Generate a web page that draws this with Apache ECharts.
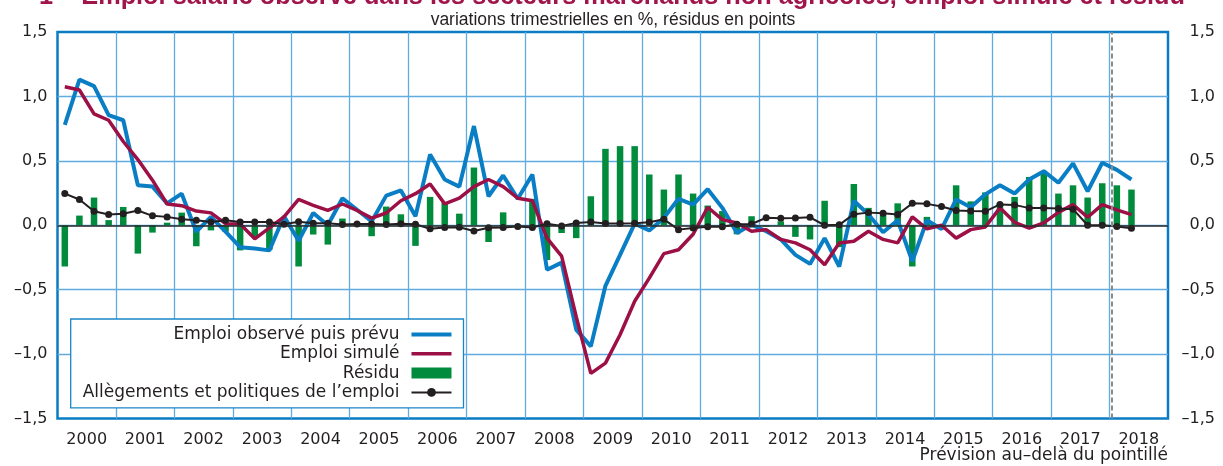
<!DOCTYPE html>
<html>
<head>
<meta charset="utf-8">
<script src="https://cdn.jsdelivr.net/npm/echarts@6/dist/echarts.min.js"></script>
<style>
  html, body { margin: 0; padding: 0; background: #fff; }
  #main { width: 1223px; height: 466px; }
</style>
</head>
<body>
<div id="main"></div>
<script>
// trimestres 2000T1 .. 2018T2 (74 points), axe jusqu'a fin 2018
const years = ['2000', '2001', '2002', '2003', '2004', '2005', '2006', '2007', '2008', '2009',
  '2010', '2011', '2012', '2013', '2014', '2015', '2016', '2017', '2018'];

const emploiObserve = [
  0.78, 1.13, 1.08, 0.855, 0.815, 0.31, 0.30, 0.17,
  0.245, -0.05, 0.065, -0.05, -0.17, -0.18, -0.195, 0.07,
  -0.12, 0.095, 0.0, 0.21, 0.12, 0.03, 0.23, 0.27,
  0.07, 0.55, 0.355, 0.30, 0.77, 0.225, 0.386, 0.205,
  0.394, -0.345, -0.29, -0.81, -0.94, -0.47, -0.23, 0.013,
  -0.04, 0.057, 0.205, 0.16, 0.28, 0.135, -0.06, 0.005,
  -0.047, -0.11, -0.23, -0.30, -0.10, -0.32, 0.19, 0.083,
  -0.054, 0.039, -0.28, 0.039, -0.03, 0.2, 0.14, 0.24,
  0.31, 0.246, 0.355, 0.42, 0.33, 0.48, 0.264, 0.485,
  0.43, 0.355
];

const emploiSimule = [
  1.075, 1.05, 0.865, 0.815, 0.65, 0.51, 0.35, 0.165,
  0.152, 0.11, 0.096, 0.012, 0.01, -0.105, -0.02, 0.065,
  0.20, 0.155, 0.115, 0.165, 0.115, 0.055, 0.095, 0.19,
  0.245, 0.32, 0.166, 0.21, 0.30, 0.355, 0.30, 0.21,
  0.19, -0.10, -0.24, -0.71, -1.15, -1.07, -0.85, -0.59,
  -0.41, -0.22, -0.19, -0.07, 0.14, 0.044, 0.018, -0.047,
  -0.034, -0.11, -0.137, -0.19, -0.306, -0.137, -0.124, -0.047,
  -0.11, -0.137, 0.065, -0.028, 0.0, -0.10, -0.034, -0.013,
  0.135, 0.023, -0.023, 0.018, 0.10, 0.16, 0.062, 0.16,
  0.12, 0.083
];

const residu = [
  -0.32, 0.075, 0.215, 0.04, 0.142, -0.22, -0.057, 0.02,
  0.098, -0.163, -0.04, -0.05, -0.195, -0.09, -0.19, 0.0,
  -0.32, -0.072, -0.15, 0.052, 0.01, -0.085, 0.145, 0.085,
  -0.16, 0.22, 0.176, 0.09, 0.448, -0.13, 0.10, 0.0,
  0.205, -0.27, -0.06, -0.10, 0.225, 0.593, 0.614, 0.614,
  0.394, 0.277, 0.394, 0.246, 0.153, 0.11, -0.07, 0.07,
  -0.01, 0.03, -0.09, -0.11, 0.19, -0.17, 0.32, 0.135,
  0.08, 0.17, -0.32, 0.065, -0.03, 0.31, 0.185, 0.255,
  0.17, 0.22, 0.375, 0.405, 0.246, 0.31, 0.215, 0.326,
  0.31, 0.277
];

const allegements = [
  0.246, 0.20, 0.109, 0.083, 0.09, 0.114, 0.073, 0.065,
  0.047, 0.039, 0.026, 0.039, 0.026, 0.026, 0.026, 0.008,
  0.028, 0.015, 0.015, 0.005, 0.01, 0.01, 0.005, 0.012,
  0.008, -0.028, -0.018, -0.015, -0.045, -0.02, -0.018, -0.01,
  -0.018, 0.012, -0.005, 0.018, 0.025, 0.013, 0.013, 0.015,
  0.023, 0.046, -0.034, -0.022, -0.012, -0.012, 0.007, 0.01,
  0.058, 0.055, 0.057, 0.062, 0.0, 0.003, 0.086, 0.098,
  0.093, 0.083, 0.17, 0.166, 0.145, 0.115, 0.11, 0.108,
  0.162, 0.158, 0.133, 0.133, 0.13, 0.125, 0.0, 0.0,
  -0.01, -0.024
];

// debut de la prevision (en trimestres depuis 2000T1)
const previsionDebut = 72.12;

const pts = arr => arr.map((v, i) => [i + 0.5, v]);
const fmtY = v => (v < 0 ? '\u2013' : '') + Math.abs(v).toFixed(1).replace('.', ',');

const txt = '#231f20';
const gridBlue = '#62abdf';
const blue = '#0a7ec5';
const red = '#9c1045';

const chart = echarts.init(document.getElementById('main'));
const option = {
  animation: false,
  backgroundColor: '#fff',
  grid: {
    left: 57.5, right: 55, top: 32, bottom: 47.5,
    show: true,
    borderColor: '#0a7cc4',
    borderWidth: 2.5,
    backgroundColor: 'transparent'
  },
  legend: {
    orient: 'vertical',
    left: 70.7,
    top: 319,
    align: 'right',
    padding: [7, 11, 7, 12],
    itemGap: 2.3,
    itemWidth: 40,
    itemHeight: 11,
    selectedMode: false,
    backgroundColor: '#fff',
    borderColor: '#1a86c8',
    borderWidth: 1.3,
    textStyle: { fontFamily: 'DejaVu Sans', fontSize: 17, color: txt, padding: [0, 7, 0, 0] },
    data: [
      { name: 'Emploi observé puis prévu', icon: 'path://M0,0h40v4h-40z' },
      { name: 'Emploi simulé', icon: 'path://M0,0h40v3.5h-40z' },
      { name: 'Résidu', icon: 'rect' },
      { name: 'Allègements et politiques de l\u2019emploi' }
    ]
  },
  xAxis: [
    {
      type: 'value',
      min: 0, max: 76, interval: 4,
      axisLine: { show: false },
      axisTick: { show: false },
      axisLabel: { show: false },
      splitLine: { show: true, showMinLine: false, showMaxLine: false,
        lineStyle: { color: gridBlue, width: 1.3 } }
    },
    {
      type: 'category',
      data: years,
      position: 'bottom',
      boundaryGap: true,
      axisLine: { show: false },
      axisTick: { show: false },
      splitLine: { show: false },
      axisLabel: { interval: 0, margin: 13, fontFamily: 'DejaVu Sans', fontSize: 16, color: txt }
    }
  ],
  yAxis: [
    {
      type: 'value',
      min: -1.5, max: 1.5, interval: 0.5,
      axisLine: { show: false },
      axisTick: { show: false },
      axisLabel: { margin: 10, formatter: fmtY, fontFamily: 'DejaVu Sans', fontSize: 16, color: txt },
      splitLine: { show: true, showMinLine: false, showMaxLine: false,
        lineStyle: { color: gridBlue, width: 1.3 } }
    },
    {
      type: 'value',
      position: 'right',
      min: -1.5, max: 1.5, interval: 0.5,
      axisLine: { show: false },
      axisTick: { show: false },
      splitLine: { show: false },
      axisLabel: { margin: 47, align: 'right', formatter: fmtY, fontFamily: 'DejaVu Sans', fontSize: 16, color: txt }
    }
  ],
  series: [
    {
      name: 'Résidu',
      type: 'bar',
      data: pts(residu),
      barWidth: 6.5,
      itemStyle: { color: '#008b3d' },
      markLine: {
        silent: true,
        symbol: 'none',
        label: { show: false },
        data: [
          { yAxis: 0, lineStyle: { color: '#2a2a2a', width: 1.5, type: 'solid' } },
          { xAxis: previsionDebut, lineStyle: { color: '#8a8a8a', width: 2, type: [5, 3] } }
        ]
      }
    },
    {
      name: 'Emploi observé puis prévu',
      type: 'line',
      data: pts(emploiObserve),
      symbol: 'none',
      lineStyle: { color: blue, width: 4 },
      itemStyle: { color: blue }
    },
    {
      name: 'Emploi simulé',
      type: 'line',
      data: pts(emploiSimule),
      symbol: 'none',
      lineStyle: { color: red, width: 3.5 },
      itemStyle: { color: red }
    },
    {
      name: 'Allègements et politiques de l\u2019emploi',
      type: 'line',
      data: pts(allegements),
      symbol: 'circle',
      symbolSize: 7,
      lineStyle: { color: txt, width: 2 },
      itemStyle: { color: txt }
    }
  ],
  graphic: [
    {
      type: 'text', x: 612, y: -15.5,
      style: {
        text: '1 \u2013 Emploi salarié observé dans les secteurs marchands non agricoles, emploi simulé et résidu',
        fontFamily: 'Liberation Sans', fontWeight: 'bold', fontSize: 25.3,
        fill: '#a0154b', textAlign: 'center', textVerticalAlign: 'top'
      }
    },
    {
      type: 'text', x: 613, y: 11,
      style: {
        text: 'variations trimestrielles en %, résidus en points',
        fontFamily: 'Liberation Sans', fontSize: 17.5,
        fill: txt, textAlign: 'center', textVerticalAlign: 'top'
      }
    },
    {
      type: 'text', x: 1168, y: 447,
      style: {
        text: 'Prévision au\u2013delà du pointillé',
        fontFamily: 'DejaVu Sans', fontSize: 17,
        fill: txt, textAlign: 'right', textVerticalAlign: 'top'
      }
    }
  ]
};
chart.setOption(option);
</script>
</body>
</html>
